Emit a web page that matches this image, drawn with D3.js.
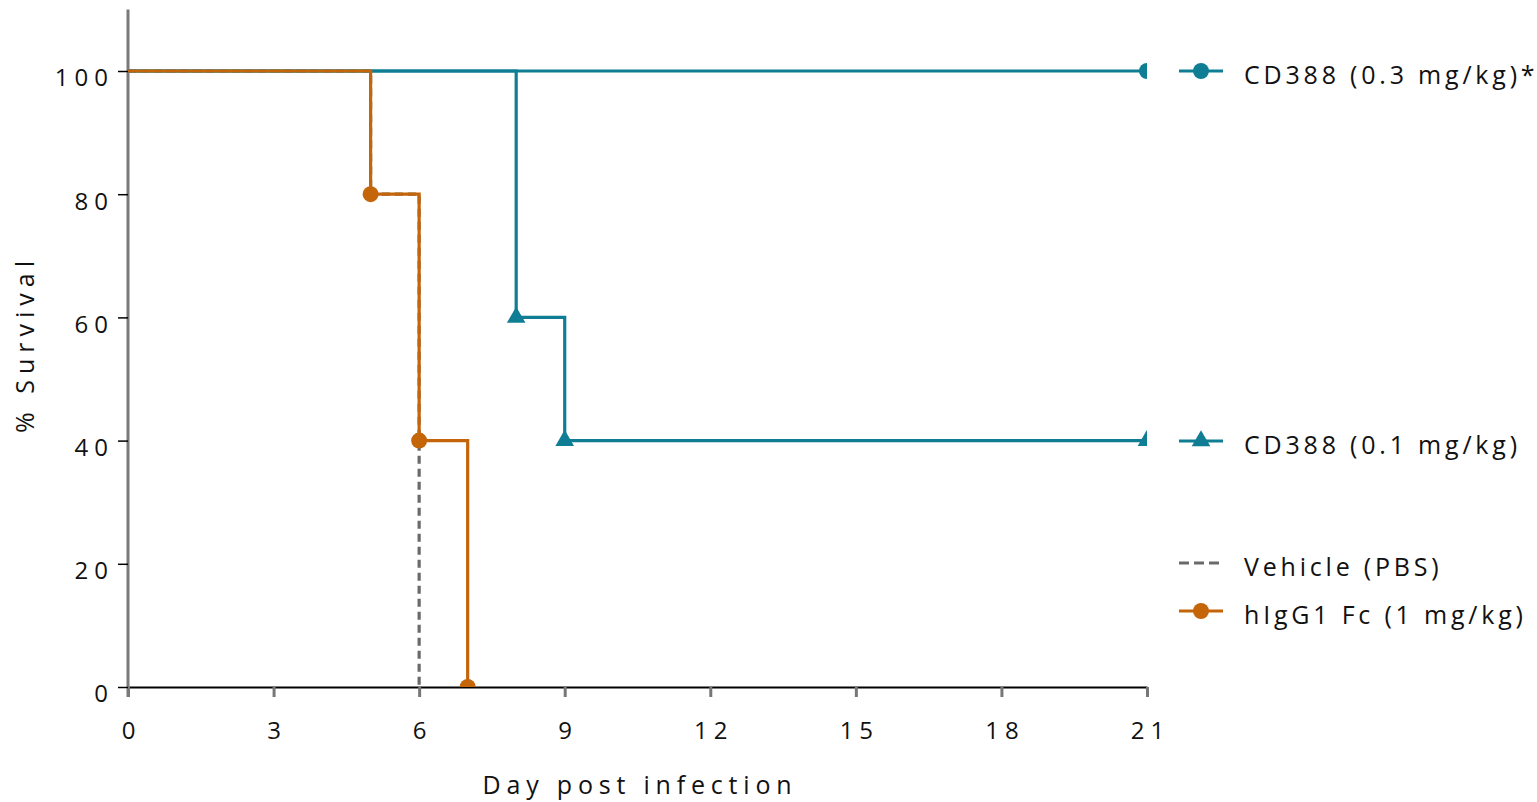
<!DOCTYPE html>
<html>
<head>
<meta charset="utf-8">
<script src="https://cdn.jsdelivr.net/npm/d3@7"></script>
<style>
  body { margin: 0; background: #fff; }
  text { font-family: "Open Sans", sans-serif; fill: #111; }
</style>
</head>
<body>
<div id="chart"></div>
<script>
// Survival data (day, % survival)
var cd388_03 = [[0, 100], [21, 100]];
var cd388_01 = [[0, 100], [8, 60], [9, 40], [21, 40]];
var vehicle = [[0, 100], [5, 80], [6, 0]];
var higg1 = [[0, 100], [5, 80], [6, 40], [7, 0]];

var xTicks = [0, 3, 6, 9, 12, 15, 18, 21];
var yTicks = [0, 20, 40, 60, 80, 100];

var seriesNames = ["CD388 (0.3 mg/kg)*", "CD388 (0.1 mg/kg)", "Vehicle (PBS)", "hIgG1 Fc (1 mg/kg)"];

var teal = "#0f7e95", orange = "#c4650a", grey = "#6a6a6a";

var W = 1537, H = 802;

var svg = d3.select("#chart").append("svg")
    .attr("width", W)
    .attr("height", H);

var x = d3.scaleLinear().domain([0, 21]).range([128, 1147]);
var y = d3.scaleLinear().domain([0, 110]).range([687, 687 - 616 * 1.1]);

// clip so end markers are cut at the frame like the original
svg.append("clipPath").attr("id", "plotclip")
    .append("rect")
    .attr("x", x(0)).attr("y", y(110))
    .attr("width", x(21) - x(0)).attr("height", y(0) - y(110));

// X axis
var xAxis = svg.append("g")
    .attr("transform", "translate(0," + y(0) + ")")
    .call(d3.axisBottom(x).tickValues(xTicks).tickSize(10).tickSizeOuter(0).tickPadding(25));
xAxis.select(".domain").attr("stroke", "#000").attr("stroke-width", 2);
xAxis.selectAll(".tick line").attr("stroke", "#777").attr("stroke-width", 3);
xAxis.selectAll(".tick text")
    .style("font-size", "24px")
    .style("letter-spacing", "6px")
    .attr("dx", "3px")
    .attr("fill", "#111");

// Y axis
var yAxis = svg.append("g")
    .attr("transform", "translate(" + x(0) + ",0)")
    .call(d3.axisLeft(y).tickValues(yTicks).tickSize(10).tickSizeOuter(0).tickPadding(10));
yAxis.select(".domain").attr("stroke", "#7a7a7a").attr("stroke-width", 3)
    .attr("d", "M0," + y(110) + "V" + (y(0) + 10));
yAxis.selectAll(".tick line").attr("stroke", "#000").attr("stroke-width", 1.5);
yAxis.selectAll(".tick text")
    .style("font-size", "24px")
    .style("letter-spacing", "6px")
    .attr("dx", "6px")
    .attr("dy", "0.62em")
    .attr("fill", "#111");

// Axis titles
svg.append("text")
    .attr("x", 640).attr("y", 794)
    .attr("text-anchor", "middle")
    .style("font-size", "25px")
    .style("letter-spacing", "5.8px")
    .text("Day post infection");

svg.append("text")
    .attr("transform", "translate(34,344) rotate(-90)")
    .attr("text-anchor", "middle")
    .style("font-size", "25px")
    .style("letter-spacing", "6px")
    .text("% Survival");

var line = d3.line()
    .x(function(d) { return x(d[0]); })
    .y(function(d) { return y(d[1]); })
    .curve(d3.curveStepAfter);

var plot = svg.append("g").attr("clip-path", "url(#plotclip)");

var series = [
    {data: cd388_03, color: teal, dash: null, marker: "circle"},
    {data: cd388_01, color: teal, dash: null, marker: "triangle"},
    {data: vehicle, color: grey, dash: "8,5", marker: null},
    {data: higg1, color: orange, dash: null, marker: "circle"}
];

var circleSym = d3.symbol().type(d3.symbolCircle).size(200);
var triSym = d3.symbol().type(d3.symbolTriangle).size(150);

series.forEach(function(s) {
    plot.append("path")
        .datum(s.data)
        .attr("fill", "none")
        .attr("stroke", s.color)
        .attr("stroke-width", 3.2)
        .attr("stroke-dasharray", s.dash)
        .attr("d", line);

    if (s.marker) {
        plot.selectAll(null)
            .data(s.data.slice(1))
            .enter().append("path")
            .attr("transform", function(d) { return "translate(" + x(d[0]) + "," + y(d[1]) + ")"; })
            .attr("d", s.marker === "circle" ? circleSym : triSym)
            .attr("fill", s.color);
    }
});

// Legend
var legendY = [71, 441, 563, 611];
var legend = svg.append("g");
series.forEach(function(s, i) {
    var g = legend.append("g").attr("transform", "translate(0," + legendY[i] + ")");
    g.append("line")
        .attr("x1", 1179).attr("x2", 1223)
        .attr("stroke", s.color)
        .attr("stroke-width", 3.2)
        .attr("stroke-dasharray", s.dash ? "10,5" : null);
    if (s.marker) {
        g.append("path")
            .attr("transform", "translate(1201,0)")
            .attr("d", s.marker === "circle" ? circleSym : triSym)
            .attr("fill", s.color);
    }
    g.append("text")
        .attr("x", 1244).attr("y", 13)
        .style("font-size", "25px")
        .style("letter-spacing", "3.8px")
        .text(seriesNames[i]);
});
</script>
</body>
</html>
